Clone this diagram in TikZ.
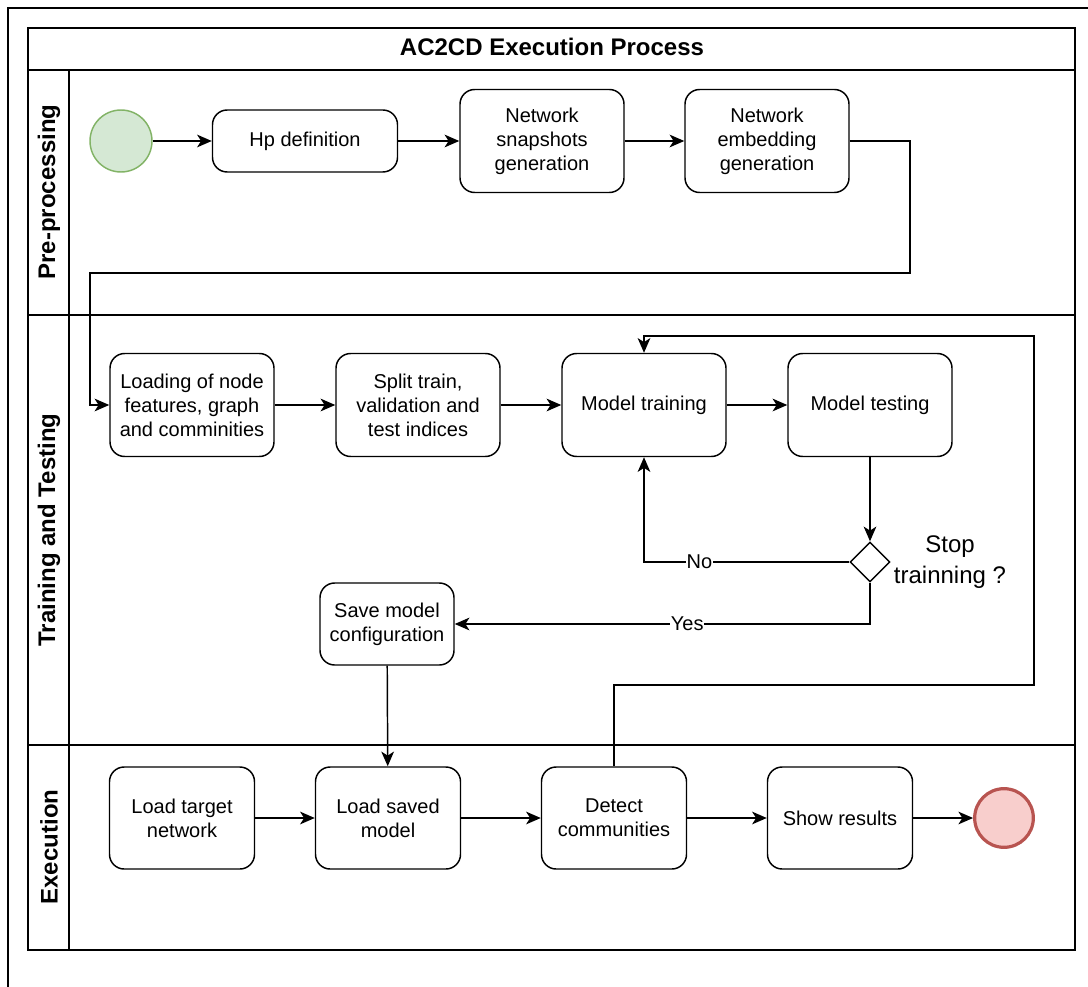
\documentclass[tikz,border=0pt]{standalone}
\usepackage{fontspec}
\setmainfont{Liberation Sans}
\usetikzlibrary{arrows.meta,shapes.geometric}
\definecolor{startfill}{HTML}{D5E8D4}
\definecolor{startline}{HTML}{82B366}
\definecolor{endfill}{HTML}{F8CECC}
\definecolor{endline}{HTML}{B85450}
\begin{document}
\begin{tikzpicture}[x=0.75pt,y=-0.75pt,line width=1.1pt,
  task/.style={draw, rounded corners=11pt, align=center, inner sep=0pt,
    font=\fontsize{15}{18}\selectfont},
  bigtask/.style={task, minimum width=123pt, minimum height=77.25pt},
  exectask/.style={task, minimum width=108.75pt, minimum height=76.5pt},
  arr/.style={-{Stealth[length=11pt,width=9.5pt,inset=3pt]}},
  lanetitle/.style={rotate=90, font=\bfseries\fontsize{18}{21}\selectfont},
  lbl/.style={fill=white, inner sep=0.5pt, font=\fontsize{15}{18}\selectfont},
  decision/.style={draw, diamond, aspect=1, inner sep=0pt, minimum width=30pt, minimum height=30pt}]
\useasboundingbox (0,0) rectangle (1088,987);

% outer frame (open to the right and bottom)
\draw (8,987) -- (8,8) -- (1088,8);

% pool with title band, lane headers and lane separators
\draw (28,28) rectangle (1075,950);
\draw (28,70) -- (1075,70);
\draw (69,70) -- (69,950);
\draw (28,315) -- (1075,315);
\draw (28,745) -- (1075,745);
\node[font=\bfseries\fontsize{18}{21}\selectfont] (title) at (552,47) {AC2CD Execution Process};
\node[lanetitle] (lane1) at (49,192) {Pre-processing};
\node[lanetitle] (lane2) at (49,530) {Training and Testing};
\node[lanetitle] (lane3) at (49,847) {Execution};

% pre-processing
\node[circle, draw=startline, fill=startfill, minimum size=46.5pt, inner sep=0pt] (start) at (121,141) {};
\node[task, minimum width=138.75pt, minimum height=46.5pt] (hp) at (305,141) {Hp definition};
\node[bigtask] (snap) at (542,141) {Network\\snapshots\\generation};
\node[bigtask] (emb) at (767,141) {Network\\embedding\\generation};

% training and testing
\node[bigtask] (load) at (192,405) {Loading of node\\features, graph\\and comminities};
\node[bigtask] (split) at (418,405) {Split train,\\validation and\\test indices};
\node[bigtask] (train) at (644,405) {Model training};
\node[bigtask] (test) at (870,405) {Model testing};
\node[decision] (dec) at (870,562) {};
\node[align=center, font=\fontsize{18}{23}\selectfont] (stoptxt) at (950,562) {Stop\\trainning ?};
\node[task, minimum width=100.5pt, minimum height=61.5pt] (save) at (387,624) {Save model\\configuration};

% execution
\node[exectask] (ltarget) at (182,818) {Load target\\network};
\node[exectask] (lsaved) at (388,818) {Load saved\\model};
\node[exectask] (detect) at (614,818) {Detect\\communities};
\node[exectask] (show) at (840,818) {Show results};
\node[circle, draw=endline, fill=endfill, line width=2.4pt, minimum size=44pt, inner sep=0pt] (stop) at (1004,818) {};

% connectors
\draw[arr] (start) -- (hp);
\draw[arr] (hp) -- (snap);
\draw[arr] (snap) -- (emb);
\coordinate (bendA) at (910,273);
\coordinate (bendB) at (90,405);
\draw[arr] (emb.east) -| (bendA) -| (bendB) -- (load.west);
\draw[arr] (load) -- (split);
\draw[arr] (split) -- (train);
\draw[arr] (train) -- (test);
\draw[arr] (test) -- (dec);
\draw[arr] (dec.west) -| node[lbl, pos=0.365] {No} (train.south);
\draw[arr] (dec.south) |- node[lbl, pos=0.72] {Yes} (save.east);
\draw[arr] (save) -- (lsaved);
\draw[arr] (ltarget) -- (lsaved);
\draw[arr] (lsaved) -- (detect);
\draw[arr] (detect) -- (show);
\draw[arr] (show) -- (stop);
\coordinate (loopA) at (1034,685);
\coordinate (loopB) at (1034,336);
\draw[arr] (detect.north) |- (loopA) -- (loopB) -| (train.north);
\end{tikzpicture}
\end{document}
